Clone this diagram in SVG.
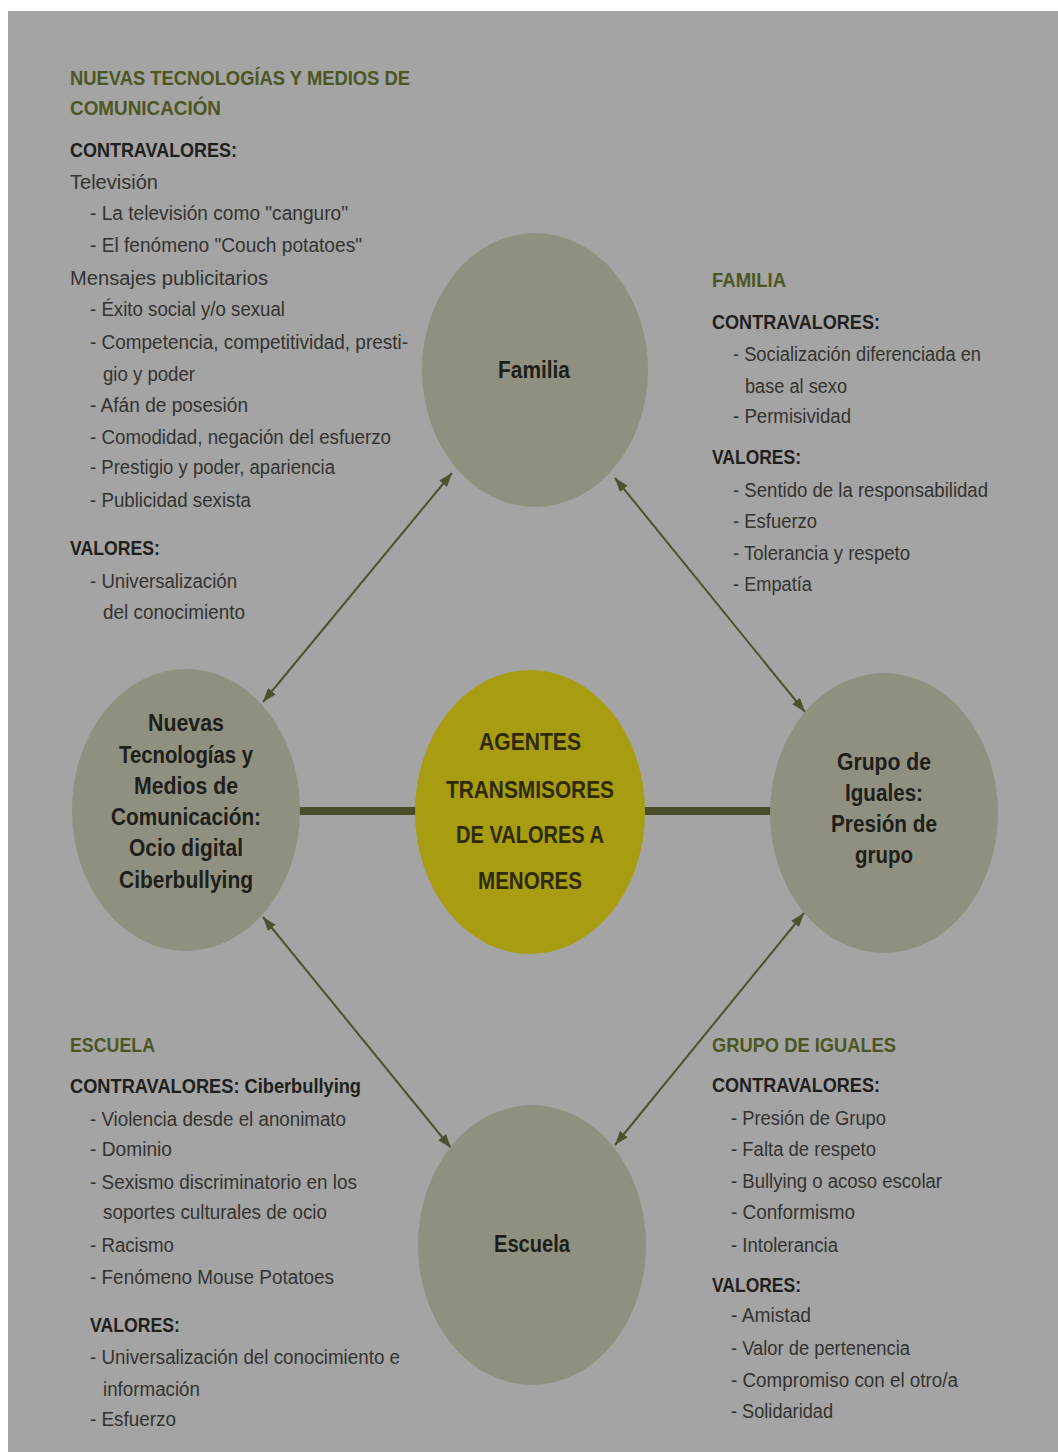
<svg xmlns="http://www.w3.org/2000/svg" width="1058" height="1452" viewBox="0 0 1058 1452">
<style>
text{font-family:"Liberation Sans Narrow","Liberation Sans",Arial,sans-serif;}
.t{font-size:20px;fill:#333330;}
.h{font-size:20px;font-weight:bold;fill:#1f1f1d;}
.g{font-size:20px;font-weight:bold;fill:#4c5622;}
.n{font-size:23px;font-weight:bold;fill:#1e1e1a;text-anchor:middle;}
.c{font-size:24px;font-weight:bold;fill:#2e2a08;text-anchor:middle;}
.node{fill:#8f907f;}
.conn{stroke:#4b5230;stroke-width:2;fill:none;}
.bar{stroke:#4b4d2a;stroke-width:8;}
</style>
<defs>
<marker id="ah" markerUnits="userSpaceOnUse" markerWidth="14" markerHeight="10" refX="14" refY="5" orient="auto-start-reverse">
<path d="M0,0 L14,5 L0,10 z" fill="#4b5230"/>
</marker>
</defs>
<rect x="0" y="0" width="1058" height="1452" fill="#ffffff"/>
<rect x="8" y="11" width="1050" height="1441" fill="#a4a4a4"/>

<g id="connectors">
<line class="bar" x1="296" y1="811" x2="420" y2="811"/>
<line class="bar" x1="642" y1="811" x2="774" y2="811"/>
<line class="conn" x1="452" y1="473" x2="263" y2="702" marker-start="url(#ah)" marker-end="url(#ah)"/>
<line class="conn" x1="615" y1="478" x2="805" y2="712" marker-start="url(#ah)" marker-end="url(#ah)"/>
<line class="conn" x1="263" y1="917" x2="451" y2="1148" marker-start="url(#ah)" marker-end="url(#ah)"/>
<line class="conn" x1="804" y1="913" x2="615" y2="1145" marker-start="url(#ah)" marker-end="url(#ah)"/>
</g>

<g id="node-familia">
<ellipse class="node" cx="535" cy="370" rx="113" ry="137"/>
<text class="n" x="534" y="378" textLength="72" lengthAdjust="spacingAndGlyphs">Familia</text>
</g>

<g id="node-nuevas">
<ellipse class="node" cx="186" cy="810" rx="114" ry="141"/>
<text class="n" x="186" y="731" textLength="76" lengthAdjust="spacingAndGlyphs">Nuevas</text>
<text class="n" x="186" y="763" textLength="134" lengthAdjust="spacingAndGlyphs">Tecnologías y</text>
<text class="n" x="186" y="794" textLength="104" lengthAdjust="spacingAndGlyphs">Medios de</text>
<text class="n" x="186" y="825" textLength="150" lengthAdjust="spacingAndGlyphs">Comunicación:</text>
<text class="n" x="186" y="856" textLength="114" lengthAdjust="spacingAndGlyphs">Ocio digital</text>
<text class="n" x="186" y="888" textLength="134" lengthAdjust="spacingAndGlyphs">Ciberbullying</text>
</g>

<g id="node-centro">
<ellipse cx="530" cy="812" rx="115" ry="142" fill="#a89c10"/>
<text class="c" x="530" y="750" textLength="102" lengthAdjust="spacingAndGlyphs">AGENTES</text>
<text class="c" x="530" y="798" textLength="168" lengthAdjust="spacingAndGlyphs">TRANSMISORES</text>
<text class="c" x="530" y="843" textLength="148" lengthAdjust="spacingAndGlyphs">DE VALORES A</text>
<text class="c" x="530" y="889" textLength="104" lengthAdjust="spacingAndGlyphs">MENORES</text>
</g>

<g id="node-grupo">
<ellipse class="node" cx="884" cy="813" rx="114" ry="140"/>
<text class="n" x="884" y="770" textLength="94" lengthAdjust="spacingAndGlyphs">Grupo de</text>
<text class="n" x="884" y="801" textLength="78" lengthAdjust="spacingAndGlyphs">Iguales:</text>
<text class="n" x="884" y="832" textLength="106" lengthAdjust="spacingAndGlyphs">Presión de</text>
<text class="n" x="884" y="863" textLength="58" lengthAdjust="spacingAndGlyphs">grupo</text>
</g>

<g id="node-escuela">
<ellipse class="node" cx="532" cy="1245" rx="114" ry="140"/>
<text class="n" x="532" y="1252" textLength="76" lengthAdjust="spacingAndGlyphs">Escuela</text>
</g>

<g id="info-nuevas">
<text class="g" x="70" y="85" textLength="340" lengthAdjust="spacingAndGlyphs">NUEVAS TECNOLOGÍAS Y MEDIOS DE</text>
<text class="g" x="70" y="115" textLength="151" lengthAdjust="spacingAndGlyphs">COMUNICACIÓN</text>
<text class="h" x="70" y="157" textLength="167" lengthAdjust="spacingAndGlyphs">CONTRAVALORES:</text>
<text class="t" x="70" y="189" textLength="88" lengthAdjust="spacingAndGlyphs">Televisión</text>
<text class="t" x="90" y="220" textLength="258" lengthAdjust="spacingAndGlyphs">- La televisión como "canguro"</text>
<text class="t" x="90" y="252" textLength="272" lengthAdjust="spacingAndGlyphs">- El fenómeno "Couch potatoes"</text>
<text class="t" x="70" y="285" textLength="198" lengthAdjust="spacingAndGlyphs">Mensajes publicitarios</text>
<text class="t" x="90" y="316" textLength="195" lengthAdjust="spacingAndGlyphs">- Éxito social y/o sexual</text>
<text class="t" x="90" y="349" textLength="318" lengthAdjust="spacingAndGlyphs">- Competencia, competitividad, presti-</text>
<text class="t" x="103" y="381" textLength="92" lengthAdjust="spacingAndGlyphs">gio y poder</text>
<text class="t" x="90" y="412" textLength="158" lengthAdjust="spacingAndGlyphs">- Afán de posesión</text>
<text class="t" x="90" y="444" textLength="301" lengthAdjust="spacingAndGlyphs">- Comodidad, negación del esfuerzo</text>
<text class="t" x="90" y="474" textLength="245" lengthAdjust="spacingAndGlyphs">- Prestigio y poder, apariencia</text>
<text class="t" x="90" y="507" textLength="161" lengthAdjust="spacingAndGlyphs">- Publicidad sexista</text>
<text class="h" x="70" y="555" textLength="90" lengthAdjust="spacingAndGlyphs">VALORES:</text>
<text class="t" x="90" y="588" textLength="147" lengthAdjust="spacingAndGlyphs">- Universalización</text>
<text class="t" x="103" y="619" textLength="142" lengthAdjust="spacingAndGlyphs">del conocimiento</text>
</g>

<g id="info-familia">
<text class="g" x="712" y="287" textLength="74" lengthAdjust="spacingAndGlyphs">FAMILIA</text>
<text class="h" x="712" y="329" textLength="168" lengthAdjust="spacingAndGlyphs">CONTRAVALORES:</text>
<text class="t" x="733" y="361" textLength="248" lengthAdjust="spacingAndGlyphs">- Socialización diferenciada en</text>
<text class="t" x="745" y="393" textLength="102" lengthAdjust="spacingAndGlyphs">base al sexo</text>
<text class="t" x="733" y="423" textLength="118" lengthAdjust="spacingAndGlyphs">- Permisividad</text>
<text class="h" x="712" y="464" textLength="89" lengthAdjust="spacingAndGlyphs">VALORES:</text>
<text class="t" x="733" y="497" textLength="255" lengthAdjust="spacingAndGlyphs">- Sentido de la responsabilidad</text>
<text class="t" x="733" y="528" textLength="84" lengthAdjust="spacingAndGlyphs">- Esfuerzo</text>
<text class="t" x="733" y="560" textLength="177" lengthAdjust="spacingAndGlyphs">- Tolerancia y respeto</text>
<text class="t" x="733" y="591" textLength="79" lengthAdjust="spacingAndGlyphs">- Empatía</text>
</g>

<g id="info-escuela">
<text class="g" x="70" y="1052" textLength="85" lengthAdjust="spacingAndGlyphs">ESCUELA</text>
<text class="h" x="70" y="1093" textLength="291" lengthAdjust="spacingAndGlyphs">CONTRAVALORES: Ciberbullying</text>
<text class="t" x="90" y="1126" textLength="256" lengthAdjust="spacingAndGlyphs">- Violencia desde el anonimato</text>
<text class="t" x="90" y="1156" textLength="82" lengthAdjust="spacingAndGlyphs">- Dominio</text>
<text class="t" x="90" y="1189" textLength="267" lengthAdjust="spacingAndGlyphs">- Sexismo discriminatorio en los</text>
<text class="t" x="103" y="1219" textLength="224" lengthAdjust="spacingAndGlyphs">soportes culturales de ocio</text>
<text class="t" x="90" y="1252" textLength="84" lengthAdjust="spacingAndGlyphs">- Racismo</text>
<text class="t" x="90" y="1284" textLength="244" lengthAdjust="spacingAndGlyphs">- Fenómeno Mouse Potatoes</text>
<text class="h" x="90" y="1332" textLength="90" lengthAdjust="spacingAndGlyphs">VALORES:</text>
<text class="t" x="90" y="1364" textLength="310" lengthAdjust="spacingAndGlyphs">- Universalización del conocimiento e</text>
<text class="t" x="103" y="1396" textLength="97" lengthAdjust="spacingAndGlyphs">información</text>
<text class="t" x="90" y="1426" textLength="86" lengthAdjust="spacingAndGlyphs">- Esfuerzo</text>
</g>

<g id="info-grupo">
<text class="g" x="712" y="1052" textLength="184" lengthAdjust="spacingAndGlyphs">GRUPO DE IGUALES</text>
<text class="h" x="712" y="1092" textLength="168" lengthAdjust="spacingAndGlyphs">CONTRAVALORES:</text>
<text class="t" x="731" y="1125" textLength="155" lengthAdjust="spacingAndGlyphs">- Presión de Grupo</text>
<text class="t" x="731" y="1156" textLength="145" lengthAdjust="spacingAndGlyphs">- Falta de respeto</text>
<text class="t" x="731" y="1188" textLength="211" lengthAdjust="spacingAndGlyphs">- Bullying o acoso escolar</text>
<text class="t" x="731" y="1219" textLength="124" lengthAdjust="spacingAndGlyphs">- Conformismo</text>
<text class="t" x="731" y="1252" textLength="107" lengthAdjust="spacingAndGlyphs">- Intolerancia</text>
<text class="h" x="712" y="1292" textLength="89" lengthAdjust="spacingAndGlyphs">VALORES:</text>
<text class="t" x="731" y="1322" textLength="80" lengthAdjust="spacingAndGlyphs">- Amistad</text>
<text class="t" x="731" y="1355" textLength="179" lengthAdjust="spacingAndGlyphs">- Valor de pertenencia</text>
<text class="t" x="731" y="1387" textLength="227" lengthAdjust="spacingAndGlyphs">- Compromiso con el otro/a</text>
<text class="t" x="731" y="1418" textLength="102" lengthAdjust="spacingAndGlyphs">- Solidaridad</text>
</g>
</svg>
